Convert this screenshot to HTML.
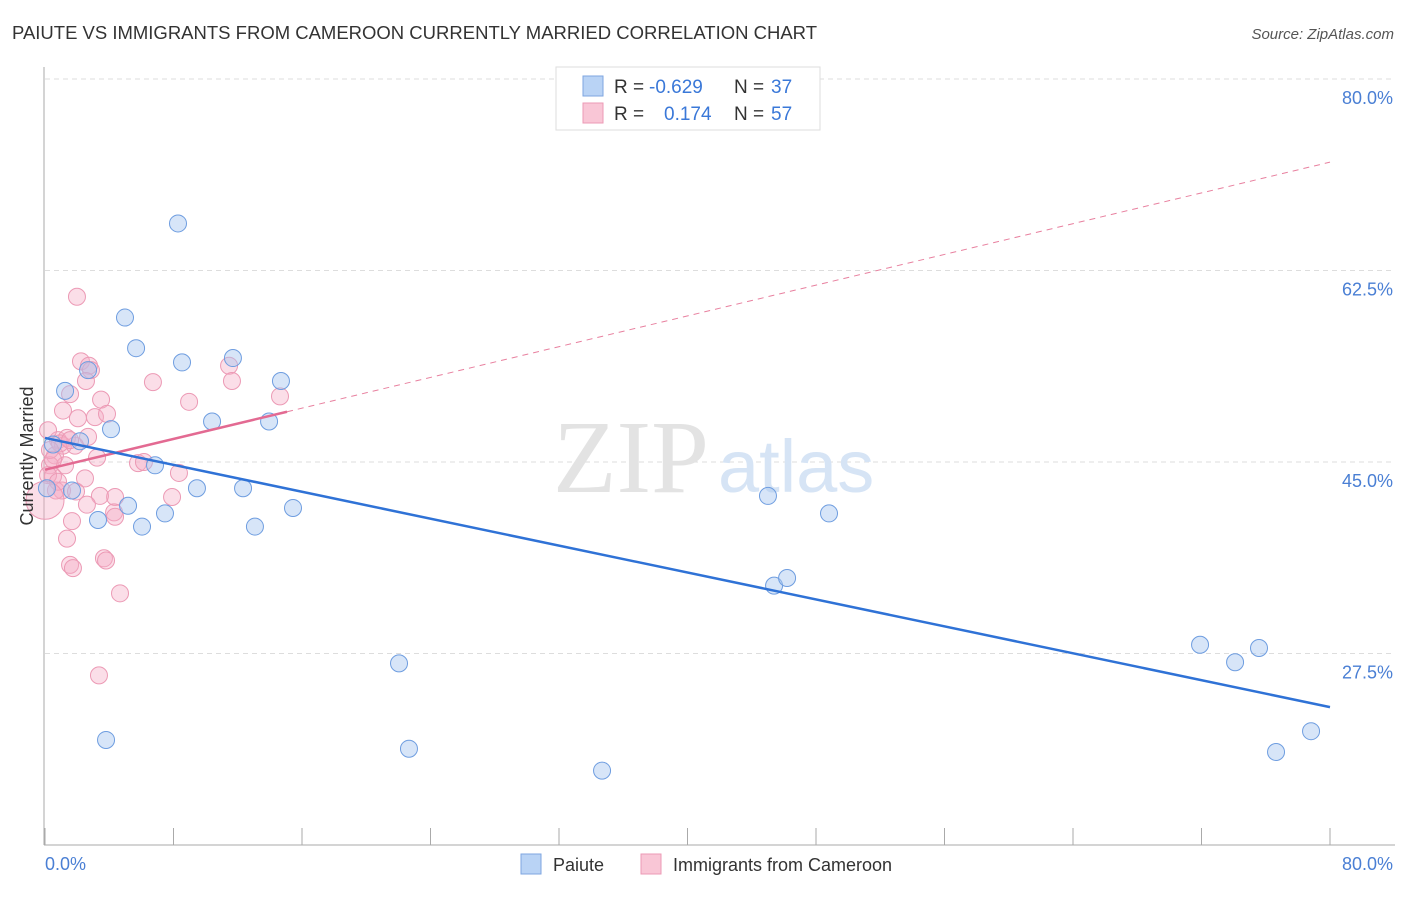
<!DOCTYPE html>
<html><head><meta charset="utf-8"><style>
body{margin:0;background:#fff;font-family:"Liberation Sans",sans-serif;}
svg text{font-family:"Liberation Sans",sans-serif;}
</style></head><body>
<svg id="chart" width="1406" height="892">
<text x="12" y="39" font-size="18.5" fill="#333" textLength="805">PAIUTE VS IMMIGRANTS FROM CAMEROON CURRENTLY MARRIED CORRELATION CHART</text>
<text x="1394" y="39" font-size="15" fill="#555" text-anchor="end" font-style="italic">Source: ZipAtlas.com</text>
<g id="grid"></g>
<text x="553" y="492" font-size="104" fill="#e3e3e3" style="font-family:'Liberation Serif',serif">ZIP</text>
<text x="718" y="492" font-size="74" fill="#d6e4f5">atlas</text>
<g id="marks"></g>
<text transform="translate(33,456) rotate(-90)" font-size="18" fill="#333" text-anchor="middle">Currently Married</text>
<text x="45" y="870" font-size="18" fill="#4a7fd4">0.0%</text>
<text x="1393" y="870" font-size="18" fill="#4a7fd4" text-anchor="end">80.0%</text>
<g>
<rect x="556" y="67" width="264" height="63" fill="#fff" stroke="#ddd"/>
<rect x="583" y="76" width="20" height="20" fill="#b9d3f5" stroke="#7ea6e0"/>
<rect x="583" y="103" width="20" height="20" fill="#f9c6d6" stroke="#ec9ab5"/>
<text y="93" font-size="19" fill="#333"><tspan x="614">R =</tspan><tspan x="649" fill="#3a78d8">-0.629</tspan><tspan x="734">N =</tspan><tspan x="771" fill="#3a78d8">37</tspan></text>
<text y="120" font-size="19" fill="#333"><tspan x="614">R =</tspan><tspan x="664" fill="#3a78d8">0.174</tspan><tspan x="734">N =</tspan><tspan x="771" fill="#3a78d8">57</tspan></text>
</g>
<g>
<rect x="521" y="854" width="20" height="20" fill="#b9d3f5" stroke="#7ea6e0"/>
<text x="553" y="871" font-size="18" fill="#333">Paiute</text>
<rect x="641" y="854" width="20" height="20" fill="#f9c6d6" stroke="#ec9ab5"/>
<text x="673" y="871" font-size="18" fill="#333">Immigrants from Cameroon</text>
</g>
</svg>
<script>
const yTicks=[80,62.5,45,27.5];
const yTickLabels=["80.0%","62.5%","45.0%","27.5%"];
const blueX=[8.28,4.98,5.67,8.53,11.70,14.69,1.25,4.11,2.18,10.40,13.95,6.85,1.68,9.46,12.33,5.17,3.30,6.04,7.47,13.07,15.44,45.01,48.81,45.39,46.20,22.04,3.80,22.66,34.68,71.91,74.09,75.58,76.64,78.82,0.12,0.50,2.68];
const blueY=[66.8,58.2,55.4,54.1,54.5,52.4,51.5,48.0,46.9,48.7,48.7,44.7,42.4,42.6,42.6,41.0,39.7,39.1,40.3,39.1,40.8,41.9,40.3,33.7,34.4,26.6,19.6,18.8,16.8,28.3,26.7,28.0,18.5,20.4,42.6,46.6,53.4];
const pinkX=[1.99,2.24,2.74,2.86,2.55,6.72,11.46,11.64,14.63,8.97,1.56,3.49,1.12,2.05,3.11,3.86,0.81,1.12,1.37,0.62,3.24,0.31,1.25,5.79,8.34,2.49,0.50,1.06,1.93,4.36,3.42,7.91,2.61,4.30,4.36,1.68,1.37,1.56,1.74,3.67,3.80,4.67,3.36,0.19,0.93,0.68,0.31,0.50,6.16,2.68,1.87,0.19,0.81,1.56,0.0];
const pinkY=[60.1,54.2,53.8,53.4,52.4,52.3,53.8,52.4,51.0,50.5,51.2,50.7,49.7,49.0,49.1,49.4,47.0,46.5,47.2,45.6,45.4,44.7,44.7,44.9,44.0,43.5,43.7,42.4,42.3,41.8,41.9,41.8,41.1,40.4,40.0,39.6,38.0,35.6,35.3,36.2,36.0,33.0,25.5,47.9,46.7,42.4,46.1,45.2,45.0,47.3,46.5,43.8,43.2,47.0,41.5];
const blueTrend=[47.2,22.6];
const pinkTrend=[44.3,72.4];
const pinkSolidEnd=15.07;
const xs=v=>45+v*1285/80;
const ys=v=>79+(80-v)*766/70;
const NS="http://www.w3.org/2000/svg";
const grid=document.getElementById('grid'),marks=document.getElementById('marks');
function mk(p,tag,at){const e=document.createElementNS(NS,tag);for(const k in at)e.setAttribute(k,at[k]);p.appendChild(e);return e;}
yTicks.forEach((t,i)=>{
 const l=mk(grid,'line',{x1:45,x2:1395,y1:ys(t),y2:ys(t),stroke:'#ddd','stroke-dasharray':'5,4'});
 
 
 const tx=mk(grid,'text',{x:1393,y:ys(t)+25,'font-size':18,fill:'#4a7fd4','text-anchor':'end'});
 tx.textContent=yTickLabels[i];
 
 
});
const ax=mk(grid,'line',{x1:44,x2:44,y1:67,y2:845,stroke:'#aaa'});


const bx=mk(grid,'line',{x1:44,x2:1395,y1:845,y2:845,stroke:'#aaa'});


for(let i=0;i<=10;i++){const t=mk(grid,'line',{x1:xs(i*8),x2:xs(i*8),y1:828,y2:845,stroke:'#aaa'});
 
 }
pinkX.forEach((x,i)=>{const c=mk(marks,'circle',{cx:xs(x),cy:ys(pinkY[i]),r:i==pinkX.length-1?19:8.5,fill:'rgba(246,172,198,0.4)',stroke:'#ec9ab5','stroke-width':1});
 
 });
blueX.forEach((x,i)=>{const c=mk(marks,'circle',{cx:xs(x),cy:ys(blueY[i]),r:8.5,fill:'rgba(166,198,240,0.45)',stroke:'#6e9de0','stroke-width':1});
 
 });
const pd=mk(marks,'line',{x1:xs(pinkSolidEnd),y1:ys(pinkTrend[0]+(pinkTrend[1]-pinkTrend[0])*pinkSolidEnd/80),x2:xs(80),y2:ys(pinkTrend[1]),stroke:'#e8809f','stroke-width':1,'stroke-dasharray':'6,5'});


const ps=mk(marks,'line',{x1:xs(0),y1:ys(pinkTrend[0]),x2:xs(pinkSolidEnd),y2:ys(pinkTrend[0]+(pinkTrend[1]-pinkTrend[0])*pinkSolidEnd/80),stroke:'#e36a92','stroke-width':2.5});


const bl=mk(marks,'line',{x1:xs(0),y1:ys(blueTrend[0]),x2:xs(80),y2:ys(blueTrend[1]),stroke:'#2f72d6','stroke-width':2.5});


</script>
</body></html>
